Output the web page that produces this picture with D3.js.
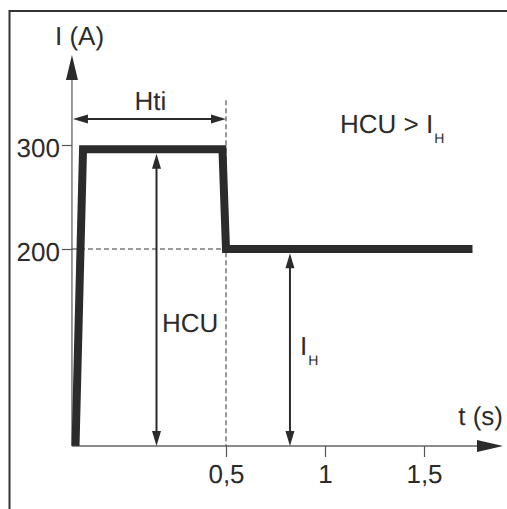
<!DOCTYPE html>
<html>
<head>
<meta charset="utf-8">
<script src="https://cdn.jsdelivr.net/npm/d3@7"></script>
<style>
  html, body { margin: 0; padding: 0; background: #fff; }
  svg { display: block; }
  text { font-family: "Liberation Sans", Arial, Helvetica, sans-serif; fill: #2b2b2b; text-rendering: geometricPrecision; }
</style>
</head>
<body>
<svg id="chart" width="507" height="509"></svg>
<script>
// ---- data ----
const tTicks = [0.5, 1, 1.5];                 // time ticks (s)
const tTickLabels = ["0,5", "1", "1,5"];
const iTicks = [200, 300];                    // current ticks (A)
const iTickLabels = ["200", "300"];
const tAxisRange = [-0.278, 1.899];           // time at axis origin / arrow tip
const iAxisRange = [10.6, 386.5];             // current at axis origin / arrow tip
const curveT = [-0.26, -0.222, 0.482, 0.5, 1.745];
const curveI = [10.6, 296, 296, 200, 200];
const htiT = [-0.278, 0.5];  const htiI = 325;      // Hti span
const hcuT = 0.149;          const hcuI = [10.6, 291.5];
const ihT  = 0.823;          const ihI  = [10.6, 196];
const markerT = 0.5;         const markerI = [343, 10.6];
const levelI = 200;

// ---- scales ----
const x = d3.scaleLinear().domain([0.5, 1.5]).range([226, 424]);
const y = d3.scaleLinear().domain([200, 300]).range([249, 145]);

const svg = d3.select("#chart");
const dark = "#2b2b2b";
const FS = 26;

// frame (top and left edges)
svg.append("path")
  .attr("d", "M9.5,509 L9.5,11 L507,11")
  .attr("fill", "none").attr("stroke", "#333").attr("stroke-width", 2);

// filled arrowhead helper: tip at (x1,y1), coming from direction of (x0,y0)
function head(x0, y0, x1, y1, len, half) {
  const dx = x1 - x0, dy = y1 - y0, L = Math.hypot(dx, dy);
  const ux = dx / L, uy = dy / L;
  const bx = x1 - ux * len, by = y1 - uy * len;
  const px = -uy * half, py = ux * half;
  svg.append("path")
    .attr("d", `M${x1},${y1} L${bx + px},${by + py} L${bx - px},${by - py} Z`)
    .attr("fill", dark);
}

// axes lines
const x0 = x(tAxisRange[0]), yb = y(iAxisRange[0]);
svg.append("line").attr("x1", x0).attr("y1", yb).attr("x2", x0).attr("y2", y(iAxisRange[1]) + 20)
  .attr("stroke", "#666").attr("stroke-width", 1.3);
head(x0, yb, x0, y(iAxisRange[1]), 25, 6);
svg.append("line").attr("x1", x0).attr("y1", yb).attr("x2", x(tAxisRange[1]) - 20).attr("y2", yb)
  .attr("stroke", "#666").attr("stroke-width", 1.3);
head(x0, yb, x(tAxisRange[1]), yb, 26, 6);

// tick axes via d3
const yAxis = d3.axisLeft(y).tickValues(iTicks).tickSize(10).tickSizeOuter(0)
  .tickFormat((d, i) => iTickLabels[i]).tickPadding(2);
const gy = svg.append("g").attr("transform", `translate(${x0},0)`).call(yAxis);
gy.select(".domain").remove();
gy.selectAll(".tick line").attr("stroke", "#555").attr("stroke-width", 1.2);
gy.selectAll(".tick text").attr("font-size", FS).attr("dy", "0.45em").attr("fill", dark)
  .style("font-family", '"Liberation Sans", Arial, sans-serif');

const xAxis = d3.axisBottom(x).tickValues(tTicks).tickSize(11).tickSizeOuter(0)
  .tickFormat((d, i) => tTickLabels[i]).tickPadding(8);
const gx = svg.append("g").attr("transform", `translate(0,${yb})`).call(xAxis);
gx.select(".domain").remove();
gx.selectAll(".tick line").attr("stroke", "#555").attr("stroke-width", 1.2);
gx.selectAll(".tick text").attr("font-size", FS).attr("fill", dark)
  .style("font-family", '"Liberation Sans", Arial, sans-serif');

// dashed guides
svg.append("line")
  .attr("x1", x(markerT)).attr("x2", x(markerT))
  .attr("y1", y(markerI[0])).attr("y2", y(markerI[1]))
  .attr("stroke", "#333").attr("stroke-width", 1).attr("stroke-dasharray", "5,3");
svg.append("line")
  .attr("x1", x0).attr("x2", x(markerT))
  .attr("y1", y(levelI)).attr("y2", y(levelI))
  .attr("stroke", "#333").attr("stroke-width", 1).attr("stroke-dasharray", "5,3");

// current curve
const pts = curveT.map((t, i) => [x(t), y(curveI[i])]);
svg.append("path")
  .attr("d", d3.line()(pts))
  .attr("fill", "none").attr("stroke", dark).attr("stroke-width", 8)
  .attr("stroke-linejoin", "miter").attr("stroke-linecap", "butt");

// Hti double arrow
const hy = y(htiI), hxa = x(htiT[0]) + 1, hxb = x(htiT[1]);
svg.append("line").attr("x1", hxa + 10).attr("x2", hxb - 10).attr("y1", hy).attr("y2", hy)
  .attr("stroke", dark).attr("stroke-width", 2);
head(hxb, hy, hxa, hy, 15, 4.5);
head(hxa, hy, hxb, hy, 15, 4.5);

// HCU double arrow
const cx = x(hcuT), cya = y(hcuI[0]), cyb = y(hcuI[1]);
svg.append("line").attr("x1", cx).attr("x2", cx).attr("y1", cya - 10).attr("y2", cyb + 10)
  .attr("stroke", dark).attr("stroke-width", 2);
head(cx, cyb, cx, cya, 15, 4.5);
head(cx, cya, cx, cyb, 15, 4.5);

// IH double arrow
const ix = x(ihT), iya = y(ihI[0]), iyb = y(ihI[1]);
svg.append("line").attr("x1", ix).attr("x2", ix).attr("y1", iya - 10).attr("y2", iyb + 10)
  .attr("stroke", dark).attr("stroke-width", 2);
head(ix, iyb, ix, iya, 15, 4.5);
head(ix, iya, ix, iyb, 15, 4.5);

// texts
function txt(s, px, py, size, anchor) {
  return svg.append("text").attr("x", px).attr("y", py).attr("font-size", size)
    .attr("text-anchor", anchor || "start").text(s);
}
txt("I (A)", 55, 45, FS);
txt("t (s)", 503, 425, FS, "end");
txt("Hti", (hxa + hxb) / 2 + 1, 110, FS, "middle");
txt("HCU", 162, 332, FS);
const ih = svg.append("text").attr("x", 300).attr("y", 355).attr("font-size", FS);
ih.append("tspan").attr("fill", dark).text("I");
ih.append("tspan").attr("fill", dark).attr("font-size", 14).attr("dy", 10).attr("dx", 1).text("H");
const cond = svg.append("text").attr("x", 340).attr("y", 133).attr("font-size", FS);
cond.append("tspan").attr("fill", dark).text("HCU > I");
cond.append("tspan").attr("fill", dark).attr("font-size", 14).attr("dy", 10).attr("dx", 1).text("H");
</script>
</body>
</html>
